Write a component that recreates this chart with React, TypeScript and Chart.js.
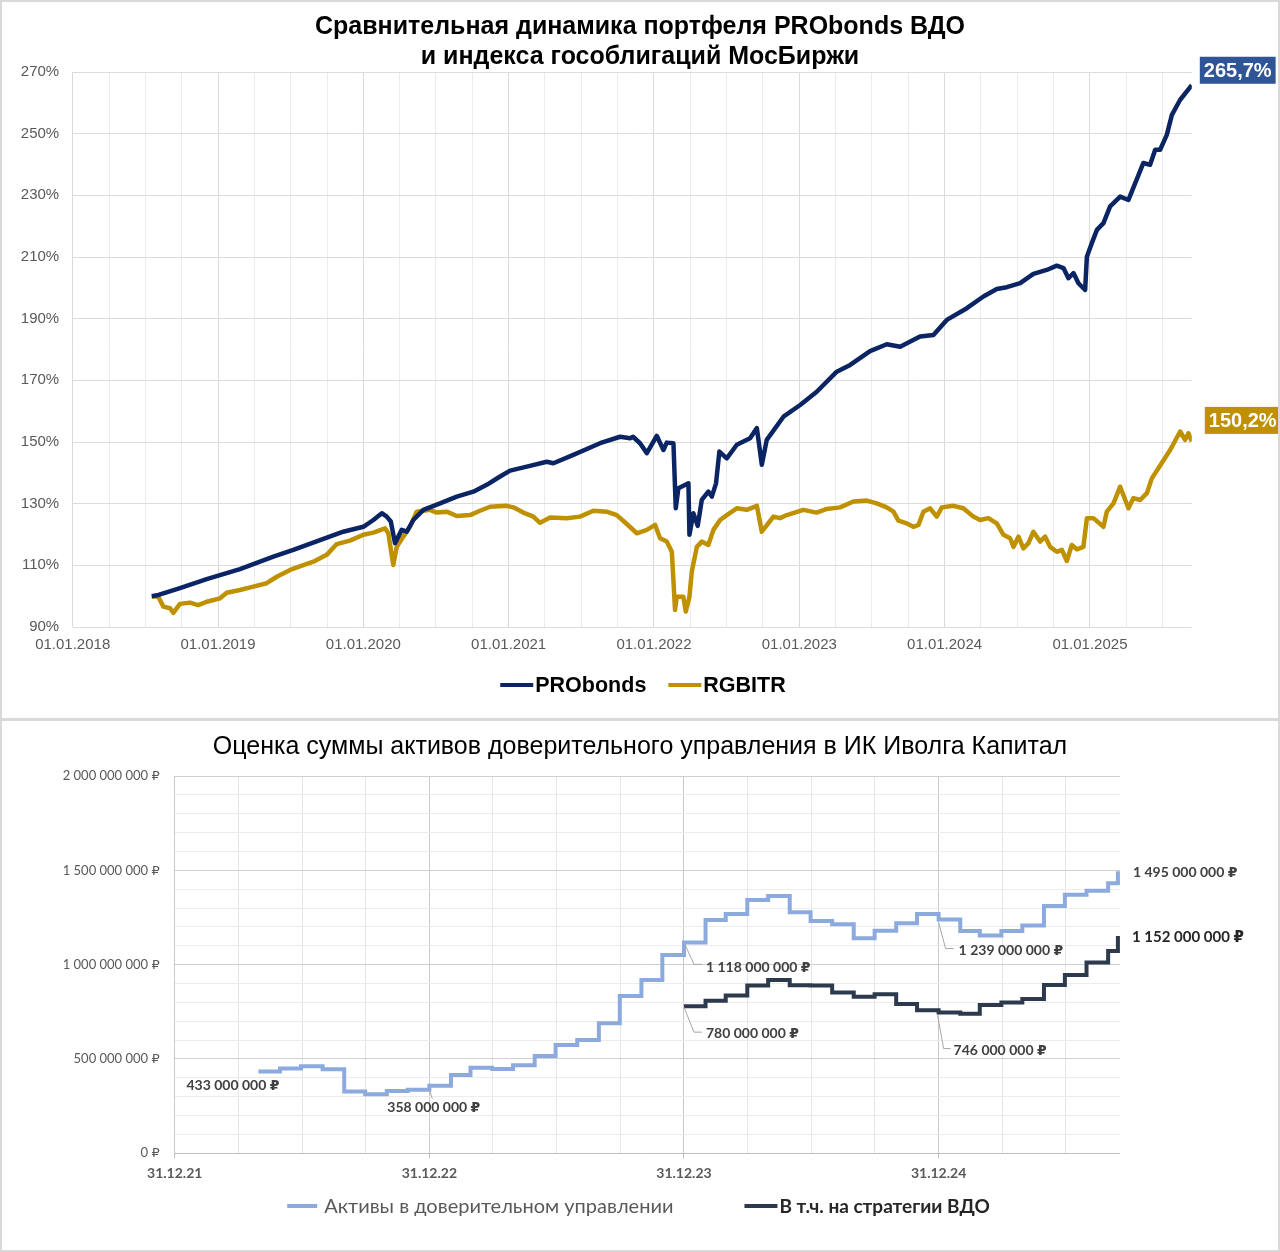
import { useEffect, useRef } from 'react';
import { Chart, registerables, type ChartConfiguration, type Plugin } from 'chart.js';

Chart.register(...registerables);

// ---- chart 1: PRObonds vs RGBITR, % of start value, x = fractional year ----
const PRO_T = [
  2018.544, 2018.59, 2018.624, 2018.738, 2018.922, 2019.151, 2019.243, 2019.381, 2019.518, 2019.702,
  2019.862, 2020.0, 2020.069, 2020.127, 2020.161, 2020.189, 2020.218, 2020.264, 2020.299, 2020.344,
  2020.413, 2020.528, 2020.643, 2020.757, 2020.849, 2020.941, 2021.01, 2021.125, 2021.262, 2021.308,
  2021.445, 2021.629, 2021.767, 2021.836, 2021.856, 2021.904, 2021.951, 2022.019, 2022.065, 2022.088,
  2022.134, 2022.15, 2022.168, 2022.237, 2022.244, 2022.271, 2022.301, 2022.329, 2022.374, 2022.398,
  2022.427, 2022.45, 2022.501, 2022.57, 2022.661, 2022.708, 2022.742, 2022.776, 2022.891, 2023.006,
  2023.12, 2023.258, 2023.35, 2023.487, 2023.602, 2023.694, 2023.831, 2023.923, 2024.015, 2024.153,
  2024.267, 2024.359, 2024.428, 2024.52, 2024.611, 2024.703, 2024.772, 2024.818, 2024.852, 2024.887,
  2024.921, 2024.967, 2024.979, 2025.013, 2025.048, 2025.093, 2025.139, 2025.208, 2025.265, 2025.368,
  2025.414, 2025.449, 2025.483, 2025.529, 2025.564, 2025.621, 2025.701,
];
const PRO_V = [
  100.0, 100.4, 100.9, 102.6, 105.5, 108.8, 110.4, 112.8, 115.0, 118.2,
  120.9, 122.5, 124.7, 126.9, 125.8, 124.2, 117.2, 121.5, 120.9, 124.7,
  128.0, 130.1, 132.3, 133.9, 136.1, 138.8, 140.7, 142.0, 143.6, 143.1,
  145.8, 149.6, 151.7, 151.2, 151.7, 149.6, 146.4, 152.0, 147.4, 149.8,
  149.6, 128.5, 135.0, 136.6, 119.9, 126.9, 122.8, 131.2, 133.9, 132.3,
  136.6, 146.9, 144.7, 149.1, 151.2, 154.5, 142.6, 150.7, 158.2, 162.0,
  166.3, 172.8, 175.0, 179.5, 181.7, 180.9, 184.2, 184.7, 189.6, 193.4,
  197.2, 199.6, 200.2, 201.5, 204.5, 205.8, 207.2, 206.4, 203.1, 204.8,
  201.5, 199.3, 210.1, 214.5, 218.8, 221.0, 226.4, 229.6, 228.5, 240.5,
  239.9, 244.8, 244.8, 249.6, 256.1, 261.0, 265.7,
];
const RGB_T = [
  2018.544, 2018.589, 2018.624, 2018.67, 2018.692, 2018.738, 2018.807, 2018.864, 2018.922, 2019.014,
  2019.06, 2019.151, 2019.243, 2019.335, 2019.404, 2019.496, 2019.587, 2019.656, 2019.748, 2019.817,
  2019.908, 2020.0, 2020.069, 2020.149, 2020.172, 2020.206, 2020.23, 2020.275, 2020.321, 2020.367,
  2020.459, 2020.505, 2020.574, 2020.643, 2020.734, 2020.803, 2020.872, 2020.987, 2021.032, 2021.101,
  2021.17, 2021.216, 2021.285, 2021.4, 2021.491, 2021.583, 2021.675, 2021.744, 2021.813, 2021.882,
  2021.951, 2022.008, 2022.042, 2022.088, 2022.123, 2022.145, 2022.157, 2022.202, 2022.219, 2022.244,
  2022.26, 2022.295, 2022.329, 2022.374, 2022.409, 2022.455, 2022.501, 2022.57, 2022.639, 2022.708,
  2022.742, 2022.822, 2022.868, 2022.914, 2023.028, 2023.12, 2023.189, 2023.281, 2023.372, 2023.465,
  2023.533, 2023.602, 2023.648, 2023.682, 2023.74, 2023.785, 2023.82, 2023.854, 2023.9, 2023.946,
  2023.981, 2024.061, 2024.129, 2024.198, 2024.244, 2024.301, 2024.359, 2024.405, 2024.451, 2024.474,
  2024.508, 2024.542, 2024.577, 2024.611, 2024.657, 2024.692, 2024.726, 2024.772, 2024.807, 2024.841,
  2024.875, 2024.91, 2024.955, 2024.979, 2025.024, 2025.093, 2025.116, 2025.162, 2025.208, 2025.265,
  2025.299, 2025.346, 2025.392, 2025.426, 2025.471, 2025.552, 2025.621, 2025.655, 2025.678, 2025.701,
];
const RGB_V = [
  100.0, 99.8, 96.6, 96.1, 94.6, 97.5, 97.9, 97.1, 98.2, 99.3,
  101.1, 102.0, 103.1, 104.2, 106.3, 108.5, 110.1, 111.2, 113.4, 116.9,
  118.0, 119.9, 120.6, 122.0, 120.4, 110.1, 116.0, 119.3, 122.5, 127.4,
  128.0, 127.1, 127.4, 126.0, 126.3, 127.7, 129.0, 129.3, 128.8, 127.1,
  125.8, 123.8, 125.5, 125.3, 125.8, 127.7, 127.4, 126.3, 123.4, 120.4,
  121.5, 123.1, 118.8, 117.7, 114.4, 95.5, 99.8, 99.8, 95.0, 99.8,
  107.9, 116.0, 117.7, 116.6, 121.5, 124.7, 126.3, 128.5, 128.0, 129.3,
  120.9, 125.8, 125.3, 126.3, 128.0, 127.1, 128.3, 128.8, 130.7, 131.0,
  130.1, 128.8, 127.4, 124.5, 123.6, 122.5, 123.1, 127.4, 128.5, 125.8,
  128.8, 129.3, 128.5, 125.8, 124.7, 125.3, 123.6, 119.9, 118.8, 116.0,
  119.3, 115.5, 117.2, 120.9, 117.7, 119.3, 116.0, 114.4, 115.0, 111.4,
  116.6, 115.2, 116.0, 125.3, 125.3, 122.5, 127.4, 130.1, 135.5, 128.5,
  131.8, 131.2, 133.4, 138.2, 141.5, 147.4, 153.4, 150.7, 152.8, 150.2,
];

// ---- chart 2: assets under management, mln RUB, month ends ----
const AUM_DATES = [
  '2022-04-30', '2022-05-31', '2022-06-30', '2022-07-31', '2022-08-31', '2022-09-30', '2022-10-31',
  '2022-11-30', '2022-12-31', '2023-01-31', '2023-02-28', '2023-03-31', '2023-04-30', '2023-05-31',
  '2023-06-30', '2023-07-31', '2023-08-31', '2023-09-30', '2023-10-31', '2023-11-30', '2023-12-31',
  '2024-01-31', '2024-02-29', '2024-03-31', '2024-04-30', '2024-05-31', '2024-06-30', '2024-07-31',
  '2024-08-31', '2024-09-30', '2024-10-31', '2024-11-30', '2024-12-31', '2025-01-31', '2025-02-28',
  '2025-03-31', '2025-04-30', '2025-05-31', '2025-06-30', '2025-07-31', '2025-08-31', '2025-09-14',
];
const AUM_VALUES = [
  433, 449, 461, 445, 327, 313, 330,
  337, 358, 415, 454, 447, 467, 516,
  574, 601, 689, 834, 919, 1051, 1118,
  1237, 1269, 1343, 1364, 1278, 1232, 1214,
  1140, 1180, 1220, 1269, 1239, 1179, 1154,
  1179, 1207, 1311, 1370, 1392, 1432, 1495,
];
const VDO_DATES = [
  '2023-12-31', '2024-01-31', '2024-02-29', '2024-03-31', '2024-04-30', '2024-05-31', '2024-06-30',
  '2024-07-31', '2024-08-31', '2024-09-30', '2024-10-31', '2024-11-30', '2024-12-31', '2025-01-31',
  '2025-02-28', '2025-03-31', '2025-04-30', '2025-05-31', '2025-06-30', '2025-07-31', '2025-08-31',
  '2025-09-14',
];
const VDO_VALUES = [
  780, 809, 836, 889, 919, 891, 890,
  852, 830, 843, 792, 758, 746, 740,
  786, 799, 818, 892, 945, 1011, 1073,
  1152,
];

const ARIAL = '"Liberation Sans", Arial, sans-serif';
const CALIBRI = 'Lato, "Open Sans", "DejaVu Sans", sans-serif';
const NAVY = '#0b2463';
const GOLD = '#bf9000';
const LIGHT = '#8caadd';
const SLATE = '#2d394c';

// end of the given day as a fractional year, so 31.12.22 lands on 2023.0
function toYear(s: string) {
  const [y, m, d] = s.split('-').map(Number);
  const start = Date.UTC(y, 0, 1);
  const end = Date.UTC(y + 1, 0, 1);
  return y + (Date.UTC(y, m - 1, d) + 86400000 - start) / (end - start);
}

function rub(mln: number) {
  const s = String(Math.round(mln * 1e6)).replace(/\B(?=(\d{3})+(?!\d))/g, '\u00a0');
  return s + '\u00a0₽';
}

// legend drawn by hand: Excel puts the text right against the line and spaces items unevenly
type LegendStyle = { line: number; gap: number; after: number; font: string; color: string };

function lineLegend(styles: LegendStyle[], centerX: number, below: number): Plugin<'line'> {
  return {
    id: 'lineLegend',
    afterDraw(chart) {
      const { ctx } = chart;
      const items = chart.data.datasets.map((ds, i) => {
        ctx.font = styles[i].font;
        return { ds, st: styles[i], w: ctx.measureText(ds.label ?? '').width };
      });
      const total = items.reduce((a, it) => a + it.st.line + it.st.gap + it.w + it.st.after, 0);
      let x = centerX - total / 2;
      const y = chart.chartArea.bottom + below;
      ctx.save();
      items.forEach(({ ds, st, w }) => {
        ctx.strokeStyle = ds.borderColor as string;
        ctx.lineWidth = 4;
        ctx.beginPath();
        ctx.moveTo(x, y);
        ctx.lineTo(x + st.line, y);
        ctx.stroke();
        x += st.line + st.gap;
        ctx.font = st.font;
        ctx.fillStyle = st.color;
        ctx.textBaseline = 'middle';
        ctx.fillText(ds.label ?? '', x, y + 1);
        x += w + st.after;
      });
      ctx.restore();
    },
  };
}

const BOX_COLORS = ['#2f5597', GOLD];
const BOX_OFFSETS = [
  { dx: 8, dy: -15 },
  { dx: 13, dy: -21 },
];

const endBoxes: Plugin<'line'> = {
  id: 'endBoxes',
  afterDatasetsDraw(chart) {
    const { ctx } = chart;
    chart.data.datasets.forEach((ds, i) => {
      const meta = chart.getDatasetMeta(i);
      const pt = meta.data[meta.data.length - 1];
      const last = ds.data[ds.data.length - 1] as { x: number; y: number };
      const text = last.y.toFixed(1).replace('.', ',') + '%';
      ctx.save();
      ctx.font = `bold 20px ${ARIAL}`;
      const w = ctx.measureText(text).width + 8;
      const h = 27;
      const left = pt.x + BOX_OFFSETS[i].dx;
      const cy = pt.y + BOX_OFFSETS[i].dy;
      ctx.fillStyle = BOX_COLORS[i];
      ctx.fillRect(left, cy - h / 2, w, h);
      ctx.fillStyle = '#ffffff';
      ctx.textBaseline = 'middle';
      ctx.fillText(text, left + 4, cy + 1);
      ctx.restore();
    });
  },
};

function rateConfig(): ChartConfiguration<'line'> {
  return {
    type: 'line',
    data: {
      datasets: [
        {
          label: 'PRObonds',
          data: PRO_T.map((x, i) => ({ x, y: PRO_V[i] })),
          borderColor: NAVY,
          backgroundColor: NAVY,
          borderWidth: 4.5,
          pointRadius: 0,
          tension: 0,
          borderJoinStyle: 'round',
          order: 0,
        },
        {
          label: 'RGBITR',
          data: RGB_T.map((x, i) => ({ x, y: RGB_V[i] })),
          borderColor: GOLD,
          backgroundColor: GOLD,
          borderWidth: 4.5,
          pointRadius: 0,
          tension: 0,
          borderJoinStyle: 'round',
          order: 1,
        },
      ],
    },
    options: {
      animation: false,
      responsive: true,
      maintainAspectRatio: false,
      layout: { padding: { top: 0, left: 0, right: 0, bottom: 55.5 } },
      scales: {
        x: {
          type: 'linear',
          min: 2018,
          max: PRO_T[PRO_T.length - 1],
          ticks: {
            stepSize: 0.25,
            autoSkip: false,
            maxRotation: 0,
            includeBounds: false,
            padding: 9,
            color: '#595959',
            font: { family: ARIAL, size: 15 },
            callback: (v) => (Number.isInteger(Number(v)) ? `01.01.${v}` : ''),
          },
          grid: {
            drawTicks: false,
            color: (c) => (Number.isInteger(c.tick?.value) ? '#dadada' : '#ececec'),
          },
          border: { display: false },
          afterFit: (s) => {
            s.height = 37.5;
          },
        },
        y: {
          min: 90,
          max: 270,
          ticks: {
            stepSize: 20,
            autoSkip: false,
            padding: 13.5,
            color: '#595959',
            font: { family: ARIAL, size: 15 },
            callback: (v) => `${v}%`,
          },
          grid: { drawTicks: false, color: '#dcdcdc' },
          border: { display: false },
          afterFit: (s) => {
            s.width = 72.7;
          },
        },
        pad: {
          type: 'linear',
          axis: 'y',
          position: 'right',
          display: true,
          grid: { display: false },
          ticks: { display: false },
          border: { display: false },
          afterFit: (s) => {
            s.width = 88.2;
          },
        },
      },
      plugins: {
        title: {
          display: true,
          text: ['Сравнительная динамика портфеля PRObonds ВДО', 'и индекса гособлигаций МосБиржи'],
          color: '#000000',
          font: { family: ARIAL, size: 25, weight: 'bold', lineHeight: 1.2 },
          padding: { top: 12, bottom: 0 },
        },
        legend: { display: false },
        tooltip: { enabled: false },
      },
    },
    plugins: [
      endBoxes,
      lineLegend(
        [
          { line: 33, gap: 2, after: 22, font: `bold 21.5px ${ARIAL}`, color: '#000000' },
          { line: 33, gap: 2, after: 0, font: `bold 21.5px ${ARIAL}`, color: '#000000' },
        ],
        643,
        58,
      ),
    ],
  };
}

type Note = {
  ds: number;
  idx: number;
  dx: number;
  dy: number;
  leader?: [number, number][];
  size?: number;
  color?: string;
};

const NOTES: Note[] = [
  { ds: 0, idx: 0, dx: -72, dy: 14 },
  { ds: 0, idx: 8, dx: -42, dy: 22, leader: [[0, 4], [3, 13]] },
  { ds: 0, idx: 20, dx: 22, dy: 25, leader: [[1, 2], [10, 22], [18, 22]] },
  { ds: 1, idx: 0, dx: 22, dy: 27, leader: [[0, 1], [10, 26], [18, 26]] },
  { ds: 0, idx: 32, dx: 20, dy: 31, leader: [[0, 3], [7, 29], [15, 29]] },
  { ds: 1, idx: 12, dx: 15, dy: 38, leader: [[-1, 3], [5, 36], [12, 36]] },
  { ds: 0, idx: -1, dx: 15, dy: 1 },
  { ds: 1, idx: -1, dx: 14, dy: 1, size: 15, color: '#262626' },
];

const notes: Plugin<'line'> = {
  id: 'notes',
  afterDatasetsDraw(chart) {
    const { ctx } = chart;
    NOTES.forEach((n) => {
      const meta = chart.getDatasetMeta(n.ds);
      const values = chart.data.datasets[n.ds].data as { x: number; y: number }[];
      const i = n.idx < 0 ? values.length - 1 : n.idx;
      const pt = meta.data[i];
      ctx.save();
      if (n.leader) {
        ctx.strokeStyle = '#a6a6a6';
        ctx.lineWidth = 1;
        ctx.beginPath();
        n.leader.forEach(([lx, ly], k) => {
          if (k === 0) ctx.moveTo(pt.x + lx, pt.y + ly);
          else ctx.lineTo(pt.x + lx, pt.y + ly);
        });
        ctx.stroke();
      }
      ctx.font = `bold ${n.size ?? 14}px ${CALIBRI}`;
      ctx.fillStyle = n.color ?? '#404040';
      ctx.textBaseline = 'middle';
      ctx.fillText(rub(values[i].y), pt.x + n.dx, pt.y + n.dy);
      ctx.restore();
    });
  },
};

function aumConfig(): ChartConfiguration<'line'> {
  return {
    type: 'line',
    data: {
      datasets: [
        {
          label: 'Активы в доверительном управлении',
          data: AUM_DATES.map((d, i) => ({ x: toYear(d), y: AUM_VALUES[i] })),
          borderColor: LIGHT,
          backgroundColor: LIGHT,
          borderWidth: 4,
          pointRadius: 0,
          stepped: true,
        },
        {
          label: 'В т.ч. на стратегии ВДО',
          data: VDO_DATES.map((d, i) => ({ x: toYear(d), y: VDO_VALUES[i] })),
          borderColor: SLATE,
          backgroundColor: SLATE,
          borderWidth: 4,
          pointRadius: 0,
          stepped: true,
        },
      ],
    },
    options: {
      animation: false,
      responsive: true,
      maintainAspectRatio: false,
      layout: { padding: { top: 0, left: 0, right: 0, bottom: 65.5 } },
      scales: {
        x: {
          type: 'linear',
          min: toYear('2021-12-31'),
          max: toYear('2025-09-17'),
          ticks: {
            stepSize: 0.25,
            autoSkip: false,
            maxRotation: 0,
            includeBounds: false,
            padding: 7,
            color: '#595959',
            font: { family: CALIBRI, size: 14, weight: 'bold' },
            callback: (v) =>
              Number.isInteger(Number(v)) ? `31.12.${String(Number(v) - 1).slice(2)}` : '',
          },
          grid: {
            tickLength: 5,
            color: (c) => (Number.isInteger(c.tick?.value) ? '#c8c8c8' : '#e6e6e6'),
            tickColor: (c) => (Number.isInteger(c.tick?.value) ? '#bfbfbf' : 'rgba(0,0,0,0)'),
          },
          border: { display: false },
          afterFit: (s) => {
            s.height = 33.2;
          },
        },
        y: {
          min: 0,
          max: 2000,
          ticks: {
            stepSize: 100,
            autoSkip: false,
            padding: 15,
            color: '#595959',
            font: { family: CALIBRI, size: 13 },
            callback: (v) => (Number(v) % 500 === 0 ? rub(Number(v)) : ''),
          },
          grid: {
            drawTicks: false,
            color: (c) => {
              const v = c.tick?.value ?? 0;
              if (v === 0) return '#bfbfbf';
              return v % 500 === 0 ? '#d0d0d0' : '#ececec';
            },
          },
          border: { display: false },
          afterFit: (s) => {
            s.width = 174.7;
          },
        },
        pad: {
          type: 'linear',
          axis: 'y',
          position: 'right',
          display: true,
          grid: { display: false },
          ticks: { display: false },
          border: { display: false },
          afterFit: (s) => {
            s.width = 160;
          },
        },
      },
      plugins: {
        title: {
          display: true,
          text: 'Оценка суммы активов доверительного управления в ИК Иволга Капитал',
          color: '#000000',
          font: { family: ARIAL, size: 25, weight: 'normal', lineHeight: 1.2 },
          padding: { top: 12, bottom: 14 },
        },
        legend: { display: false },
        tooltip: { enabled: false },
      },
    },
    plugins: [
      notes,
      lineLegend(
        [
          { line: 30, gap: 7, after: 71, font: `20px ${CALIBRI}`, color: '#595959' },
          { line: 33, gap: 2, after: 0, font: `bold 19px ${CALIBRI}`, color: '#262626' },
        ],
        638.5,
        52.7,
      ),
    ],
  };
}

function ChartCanvas({ makeConfig, height }: { makeConfig: () => ChartConfiguration<'line'>; height: number }) {
  const canvasRef = useRef<HTMLCanvasElement | null>(null);

  useEffect(() => {
    const canvas = canvasRef.current;
    if (!canvas) return;
    const chart = new Chart(canvas, makeConfig());
    return () => chart.destroy();
  }, [makeConfig]);

  return (
    <div style={{ position: 'relative', width: 1280, height }}>
      <canvas ref={canvasRef} />
    </div>
  );
}

const frame = (top: number, height: number): React.CSSProperties => ({
  position: 'absolute',
  left: 0,
  top,
  width: 1280,
  height,
  boxSizing: 'border-box',
  border: '2px solid #d9d9d9',
  pointerEvents: 'none',
});

export default function App() {
  useEffect(() => {
    document.body.style.margin = '0';
  }, []);

  return (
    <div style={{ position: 'relative', width: 1280, height: 1252, background: '#ffffff' }}>
      <ChartCanvas makeConfig={rateConfig} height={720} />
      <ChartCanvas makeConfig={aumConfig} height={532} />
      <div style={frame(0, 720)} />
      <div style={frame(719, 533)} />
    </div>
  );
}
